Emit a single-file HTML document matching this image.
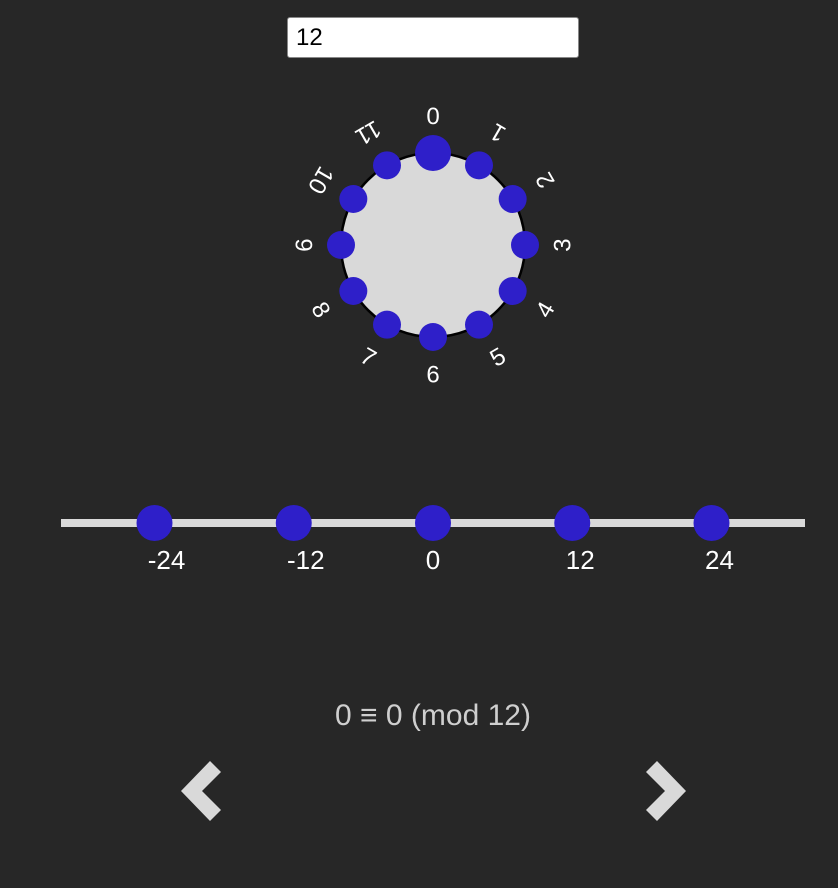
<!DOCTYPE html>
<html><head><meta charset="utf-8"><style>
html,body{margin:0;padding:0;background:#272727;width:838px;height:888px;overflow:hidden;font-family:"Liberation Sans",sans-serif}
#mod-input{position:absolute;left:287px;top:17px;width:292px;height:41px;box-sizing:border-box;border:1px solid #888;border-radius:3px;background:#fff;font:24px "Liberation Sans",sans-serif;padding:0 0 0 8px;color:#000}
svg{position:absolute;left:0;top:0}
</style></head><body>
<input id="mod-input" value="12">
<svg id="chart" width="838" height="888"></svg>
<script>
const modulus = 12;
const clockValues = [0,1,2,3,4,5,6,7,8,9,10,11];
const lineValues = [-24,-12,0,12,24];
const lineLabels = ["-24","-12","0","12","24"];
const selectedValue = 0;
const equationText = "0 \u2261 0 (mod 12)";

const NS="http://www.w3.org/2000/svg";
const svg=document.getElementById('chart');
function mk(t,a,p){const e=document.createElementNS(NS,t);for(const k in a)e.setAttribute(k,a[k]);(p||svg).appendChild(e);return e;}
const cx=433,cy=245,R=92,LR=130;
const clockAngle=v=>v/modulus*2*Math.PI;
let face=mk('circle',{cx,cy,r:R,fill:'#d9d9d9',stroke:'#000','stroke-width':2.5});


clockValues.forEach(v=>{
  const a=clockAngle(v);
  const x=cx+R*Math.sin(a),y=cy-R*Math.cos(a);
  const d=mk('circle',{cx:x,cy:y,r:v===selectedValue?18:14,fill:'#2e1fc9'});
  
  
  const lx=cx+LR*Math.sin(a),ly=cy-LR*Math.cos(a);
  const t=mk('text',{x:lx,y:ly,fill:'#fff','font-size':24,'text-anchor':'middle','dominant-baseline':'central',transform:`rotate(${a*180/Math.PI+180} ${lx} ${ly})`});
  t.textContent=v;
  
  
});
const lineX=v=>433+v*(139.25/12);
let ln=mk('line',{x1:61,y1:523,x2:805,y2:523,stroke:'#d9d9d9','stroke-width':8});


lineValues.forEach((v,i)=>{
  const d=mk('circle',{cx:lineX(v),cy:523,r:18,fill:'#2e1fc9'});
  
  
  const t=mk('text',{x:lineX(v)+(v===0?0:(v<0?12:8)),y:569,fill:'#fff','font-size':26,'text-anchor':'middle'});
  t.textContent=lineLabels[i];
  
  
});
let eq=mk('text',{x:433,y:725,fill:'#cfcfcf','font-size':30,'text-anchor':'middle'});
eq.textContent=equationText;


let pl=mk('polygon',{points:'181,791 210,761 221,772 202,791 221,810 210,821',fill:'#d9d9d9'});


let pr=mk('polygon',{points:'686,791 657,761 646,772 665,791 646,810 657,821',fill:'#d9d9d9'});


</script>
</body></html>
